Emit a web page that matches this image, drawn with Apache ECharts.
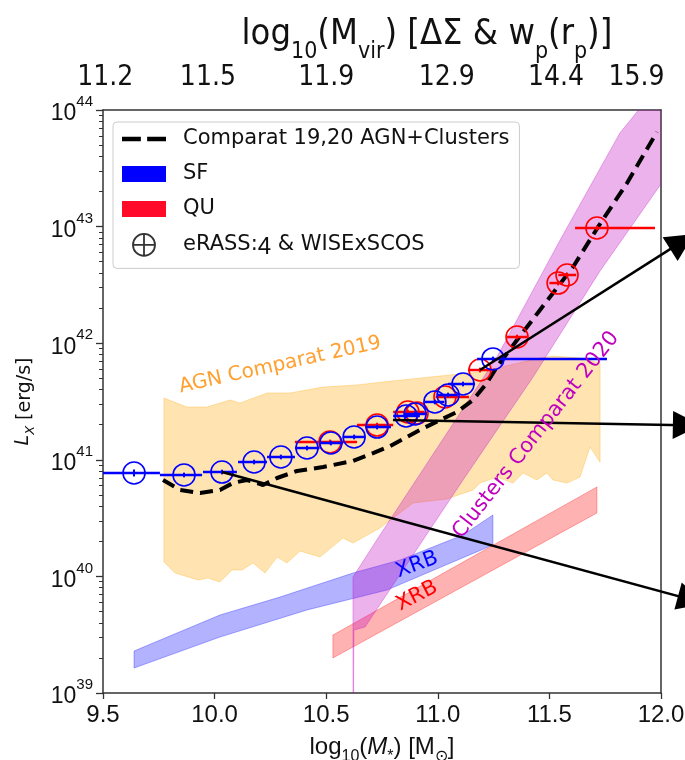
<!DOCTYPE html>
<html><head><meta charset="utf-8">
<script src="https://cdn.jsdelivr.net/npm/echarts@6/dist/echarts.min.js"></script>
<style>html,body{margin:0;padding:0;background:#fff}#c{width:685px;height:760px}</style>
</head><body><div id="c"></div>
<script>
// ---------------- DATA ----------------
const xTickValues = [9.5, 10.0, 10.5, 11.0, 11.5, 12.0];
const yTickExponents = [39, 40, 41, 42, 43, 44];
const topTickPos = [9.51, 9.97, 10.5, 11.04, 11.53, 11.89];
const topTickLabels = ['11.2', '11.5', '11.9', '12.9', '14.4', '15.9'];

// SF (blue) stacked points: log10 M*, log10 Lx, bin low/high, y error
const sfX   = [9.639, 9.863, 10.033, 10.177, 10.297, 10.414, 10.521, 10.625, 10.728, 10.858, 10.898, 10.987, 11.046, 11.113, 11.247];
const sfL   = [40.887, 40.870, 40.895, 40.981, 41.024, 41.101, 41.144, 41.196, 41.281, 41.376, 41.393, 41.496, 41.556, 41.650, 41.865];
const sfXlo = [9.50, 9.755, 9.948, 10.105, 10.235, 10.36, 10.47, 10.575, 10.675, 10.80, 10.85, 10.94, 11.00, 11.046, 11.176];
const sfXhi = [9.755, 9.944, 10.10, 10.235, 10.36, 10.47, 10.575, 10.675, 10.79, 10.92, 10.95, 11.03, 11.09, 11.167, 11.758];
const sfLerr = [0.03, 0.02, 0.02, 0.02, 0.02, 0.02, 0.02, 0.02, 0.02, 0.02, 0.02, 0.02, 0.02, 0.02, 0.02];

// QU (red) stacked points
const quX   = [10.517, 10.728, 10.866, 10.907, 11.032, 11.189, 11.355, 11.539, 11.579, 11.713];
const quL   = [41.153, 41.298, 41.410, 41.400, 41.539, 41.770, 42.053, 42.516, 42.585, 42.988];
const quXlo = [10.36, 10.638, 10.80, 10.85, 10.99, 11.135, 11.31, 11.50, 11.54, 11.615];
const quXhi = [10.638, 10.80, 10.94, 10.95, 11.14, 11.247, 11.40, 11.56, 11.62, 11.973];
const quLerr = [0.02, 0.02, 0.02, 0.02, 0.02, 0.02, 0.02, 0.02, 0.02, 0.02];

// Comparat 19,20 AGN+Clusters model (dashed)
const modelX = [9.769, 9.845, 9.935, 10.024, 10.082, 10.145, 10.217, 10.28, 10.369, 10.486, 10.62, 10.71, 10.786, 10.92, 11.01, 11.086, 11.158, 11.22, 11.265, 11.355, 11.458, 11.606, 11.718, 11.848, 11.982];
const modelL = [40.827, 40.741, 40.715, 40.741, 40.801, 40.827, 40.784, 40.844, 40.904, 40.938, 40.99, 41.058, 41.118, 41.256, 41.341, 41.41, 41.513, 41.659, 41.796, 42.027, 42.285, 42.654, 42.997, 43.374, 43.811];

// AGN Comparat 2019 band
const agnUpX = [9.773, 9.876, 9.966, 10.069, 10.114, 10.235, 10.338, 10.486, 10.638, 10.754, 10.965, 11.189, 11.458, 11.516, 11.637, 11.727];
const agnUpL = [41.530, 41.453, 41.453, 41.513, 41.487, 41.573, 41.573, 41.624, 41.642, 41.667, 41.710, 41.753, 41.873, 41.890, 41.873, 41.830];
const agnLoX = [9.773, 9.823, 9.926, 9.970, 10.024, 10.078, 10.123, 10.172, 10.226, 10.280, 10.324, 10.383, 10.472, 10.575, 10.620, 10.741, 10.889, 11.041, 11.158, 11.189, 11.265, 11.337, 11.382, 11.444, 11.489, 11.516, 11.579, 11.637, 11.682, 11.727];
const agnLoL = [40.124, 40.029, 39.969, 39.986, 39.952, 40.055, 40.055, 40.115, 40.029, 40.166, 40.115, 40.218, 40.166, 40.329, 40.286, 40.415, 40.630, 40.664, 40.741, 40.800, 40.852, 40.800, 40.887, 40.827, 40.887, 40.827, 40.800, 40.852, 41.110, 40.980];

// Clusters Comparat 2020 band
const clUpX = [10.62, 10.741, 11.0, 11.265, 11.548, 11.816, 11.892, 12.0, 12.1];
const clUpL = [39.995, 40.355, 41.11, 41.882, 42.885, 43.803, 43.983, 44.30, 44.5];
const clLoX = [10.62, 10.624, 10.674, 11.113, 11.427, 11.727, 12.0, 12.1];
const clLoL = [38.0, 39.54, 39.566, 40.827, 41.71, 42.62, 43.365, 43.5];

// XRB bands
const xrbSfUpX = [9.639, 10.024, 10.293, 10.62, 10.831, 11.113, 11.247];
const xrbSfUpL = [39.36, 39.669, 39.823, 40.029, 40.141, 40.355, 40.527];
const xrbSfLoX = [9.639, 10.024, 10.414, 10.772, 11.247];
const xrbSfLoL = [39.214, 39.48, 39.712, 39.883, 40.269];
const xrbQuUpX = [10.530, 11.713];
const xrbQuUpL = [39.497, 40.767];
const xrbQuLoX = [10.530, 11.713];
const xrbQuLoL = [39.300, 40.544];

// Arrows (start, end) in data coords
const arrowStarts = [[11.189, 41.77], [10.799, 41.341], [10.033, 40.895]];
const arrowEnds   = [[12.094, 42.871], [12.116, 41.297], [12.137, 39.80]];

// Annotations
const annText  = ['AGN Comparat 2019', 'Clusters Comparat 2020', 'XRB', 'XRB'];
const annX     = [10.293, 11.44, 10.907, 10.907];
const annL     = [41.813, 41.213, 40.098, 39.832];

const minorTicks = [];
for (let n = 39; n < 44; n++) for (let k = 2; k <= 9; k++) minorTicks.push(n + Math.log10(k));

// ---------------- STYLE ----------------
const annColor = ['#ffa030', '#bf00bf', '#0000ff', '#ff0000'];
const annRot   = [12.5, 52, 20, 27];
const annSize  = [20, 21, 21, 21];
const axisCol = '#333';
const narrow = "'Liberation Sans Narrow', 'DejaVu Sans Condensed', sans-serif";

const chart = echarts.init(document.getElementById('c'));
const clipRect = p => ({type: 'rect', shape: {x: p.coordSys.x, y: p.coordSys.y, width: p.coordSys.width, height: p.coordSys.height}});

function band(name, upX, upL, loX, loL, fill, z) {
  const pts = upX.map((x, i) => [x, upL[i]]).concat(loX.map((x, i) => [x, loL[i]]).reverse());
  return {
    type: 'custom', name, silent: true, z, data: [pts[0]],
    renderItem: (params, api) => ({
      type: 'polygon',
      shape: {points: pts.map(p => api.coord(p))},
      style: {fill, stroke: fill, lineWidth: 1},
      clipPath: clipRect(params)
    })
  };
}

function points(name, xs, ls, lo, hi, err, color, z) {
  return {
    type: 'custom', name, z, silent: true,
    data: xs.map((x, i) => [x, ls[i], lo[i], hi[i], err[i]]),
    encode: {x: 0, y: 1},
    renderItem: (params, api) => {
      const x = api.value(0), y = api.value(1);
      const c = api.coord([x, y]);
      const l = api.coord([api.value(2), y]), r = api.coord([api.value(3), y]);
      const t = api.coord([x, y + api.value(4)]), b = api.coord([x, y - api.value(4)]);
      return {type: 'group', children: [
        {type: 'line', shape: {x1: l[0], y1: l[1], x2: r[0], y2: r[1]}, style: {stroke: color, lineWidth: 2.5}},
        {type: 'line', shape: {x1: t[0], y1: t[1], x2: b[0], y2: b[1]}, style: {stroke: color, lineWidth: 2}},
        {type: 'circle', shape: {cx: c[0], cy: c[1], r: 11}, style: {fill: 'none', stroke: color, lineWidth: 1.6}}
      ]};
    }
  };
}

const option = {
  animation: false,
  backgroundColor: '#fff',
  grid: {left: 103, right: 24, top: 110, bottom: 67, containLabel: false, outerBoundsMode: 'none'},
  graphic: [{
    type: 'text', x: 427, y: 40, z: 100,
    style: {
      text: '{b|log}{s|10}{b|(M}{s|vir}{b|) [ΔΣ & w}{s|p}{b|(r}{s|p}{b|)]}',
      align: 'center', verticalAlign: 'middle', fill: '#111',
      rich: {
        b: {fontSize: 36, fontFamily: narrow, fill: '#111', padding: [0, 0, 11, 0], verticalAlign: 'bottom'},
        s: {fontSize: 23, fontFamily: narrow, fill: '#111', verticalAlign: 'bottom'}
      }
    }
  }],
  legend: {
    orient: 'vertical', left: 113, top: 122, padding: [6, 10, 9, 9],
    itemGap: 13, itemWidth: 44, itemHeight: 22, selectedMode: false,
    backgroundColor: 'rgba(255,255,255,0.85)', borderColor: '#cccccc', borderWidth: 1, borderRadius: 4,
    textStyle: {fontFamily: 'DejaVu Sans', fontSize: 21, color: '#111', lineHeight: 22, padding: [0, 0, 0, 12],
      rich: {f: {fontFamily: 'Liberation Sans', fontSize: 24, color: '#111', padding: [5, 0, 0, 0]}}},
    formatter: n => n === 'eRASS:4 & WISExSCOS' ? 'eRASS:{f|4} & WISExSCOS' : n,
    data: [
      {name: 'Comparat 19,20 AGN+Clusters', icon: 'path://M0,0H18V4.5H0Z M24,0H42V4.5H24Z', itemStyle: {color: '#000'}},
      {name: 'SF', icon: 'path://M0,0H44V16H0Z', itemStyle: {color: '#0000ff'}},
      {name: 'QU', icon: 'path://M0,0H44V16H0Z', itemStyle: {color: '#ff0a28'}},
      {name: 'eRASS:4 & WISExSCOS', icon: 'path://M12,1A11,11,0,1,1,11.99,1Z M1,12H23 M12,1V23',
        itemStyle: {color: 'transparent', borderColor: '#000', borderWidth: 1.8}}
    ]
  },
  xAxis: [{
    type: 'value', min: 9.5, max: 12, interval: 0.5, position: 'bottom',
    axisLine: {show: true, onZero: false, lineStyle: {color: axisCol, width: 1.5}},
    axisTick: {show: true, length: 6, lineStyle: {color: axisCol, width: 1.3}},
    splitLine: {show: false},
    axisLabel: {margin: 10, fontSize: 24, fontFamily: 'Liberation Sans', color: '#111', formatter: v => v.toFixed(1)},
    name: '{b|log}{s|10}{b|(}{i|M}{s|*}{b|) [M}{s|⊙}{b|]}', nameLocation: 'middle', nameGap: 42,
    nameTextStyle: {rich: {
      b: {fontSize: 24, fontFamily: 'Liberation Sans', color: '#111', padding: [0, 0, 6, 0], verticalAlign: 'bottom'},
      i: {fontSize: 24, fontFamily: 'Liberation Sans', fontStyle: 'italic', color: '#111', padding: [0, 0, 6, 0], verticalAlign: 'bottom'},
      s: {fontSize: 16, fontFamily: 'Liberation Sans', color: '#111', verticalAlign: 'bottom'}
    }}
  }, {
    type: 'value', min: 9.5, max: 12, position: 'top',
    axisLine: {show: true, onZero: false, lineStyle: {color: axisCol, width: 1.5}},
    axisTick: {show: false},
    splitLine: {show: false},
    axisLabel: {
      margin: 18, fontSize: 28, fontFamily: narrow, color: '#111',
      customValues: topTickPos, showMinLabel: true, showMaxLabel: true, hideOverlap: false,
      formatter: v => { const i = topTickPos.findIndex(p => Math.abs(p - v) < 1e-6); return i >= 0 ? topTickLabels[i] : ''; }
    }
  }],
  yAxis: [{
    type: 'value', min: 39, max: 44, interval: 1, position: 'left',
    axisLine: {show: true, onZero: false, lineStyle: {color: axisCol, width: 1.5}},
    axisTick: {show: true, length: 7, lineStyle: {color: axisCol, width: 1.3}},
    splitLine: {show: false},
    axisLabel: {
      margin: 10, color: '#111',
      formatter: v => '{b|10}{s|' + Math.round(v) + '}',
      rich: {
        b: {fontSize: 23, fontFamily: 'Liberation Sans', color: '#111', padding: [8, 0, 0, 0], verticalAlign: 'top'},
        s: {fontSize: 15, fontFamily: 'Liberation Sans', color: '#111', verticalAlign: 'top'}
      }
    },
    name: '{i|L}{s|X} [erg/s]', nameLocation: 'middle', nameGap: 66, nameRotate: 90,
    nameTextStyle: {fontFamily: 'DejaVu Sans', fontSize: 19, color: '#111', rich: {
      i: {fontFamily: 'DejaVu Sans', fontStyle: 'italic', fontSize: 19, color: '#111', padding: [0, 0, 4, 0], verticalAlign: 'bottom'},
      s: {fontFamily: 'DejaVu Sans', fontStyle: 'italic', fontSize: 13, color: '#111', verticalAlign: 'bottom'}
    }}
  }, {
    type: 'value', min: 39, max: 44, position: 'right',
    axisLine: {show: true, onZero: false, lineStyle: {color: axisCol, width: 1.5}},
    axisTick: {show: false}, axisLabel: {show: false}, splitLine: {show: false}
  }, {
    type: 'value', min: 39, max: 44, position: 'left',
    axisLine: {show: false}, axisLabel: {show: false}, splitLine: {show: false},
    axisTick: {show: true, length: 4, customValues: minorTicks, lineStyle: {color: axisCol, width: 1}}
  }],
  series: [
    band('AGN Comparat 2019', agnUpX, agnUpL, agnLoX, agnLoL, 'rgba(255,165,0,0.3)', 1),
    band('SF XRB', xrbSfUpX, xrbSfUpL, xrbSfLoX, xrbSfLoL, 'rgba(0,0,255,0.3)', 2),
    band('QU XRB', xrbQuUpX, xrbQuUpL, xrbQuLoX, xrbQuLoL, 'rgba(255,0,0,0.3)', 2),
    band('Clusters Comparat 2020', clUpX, clUpL, clLoX, clLoL, 'rgba(191,0,191,0.3)', 3),
    {
      type: 'line', name: 'Comparat 19,20 AGN+Clusters', z: 4, silent: true,
      data: modelX.map((x, i) => [x, modelL[i]]),
      showSymbol: false, symbol: 'none', itemStyle: {color: '#000'},
      lineStyle: {color: '#000', width: 4, type: [13, 7]}
    },
    points('QU', quX, quL, quXlo, quXhi, quLerr, '#ff0000', 5),
    points('SF', sfX, sfL, sfXlo, sfXhi, sfLerr, '#0000ff', 6),
    {type: 'scatter', name: 'eRASS:4 & WISExSCOS', data: [], itemStyle: {color: '#000'}},
    {
      type: 'lines', coordinateSystem: 'cartesian2d', z: 7, silent: true, clip: false,
      symbol: ['none', 'triangle'], symbolSize: [24, 28],
      lineStyle: {color: '#000', width: 2.5, opacity: 1},
      itemStyle: {color: '#000'},
      data: arrowStarts.map((s, i) => ({coords: [s, arrowEnds[i]]}))
    },
    {
      type: 'custom', name: 'annotations', z: 8, silent: true,
      data: annX.map((x, i) => [x, annL[i], i]),
      encode: {x: 0, y: 1},
      renderItem: (params, api) => {
        const i = api.value(2);
        const c = api.coord([api.value(0), api.value(1)]);
        return {type: 'text', x: c[0], y: c[1], rotation: annRot[i] * Math.PI / 180,
          style: {text: annText[i], fill: annColor[i], fontSize: annSize[i], fontFamily: 'DejaVu Sans', align: 'center', verticalAlign: 'middle'}};
      }
    }
  ]
};
chart.setOption(option);
</script>
</body></html>
